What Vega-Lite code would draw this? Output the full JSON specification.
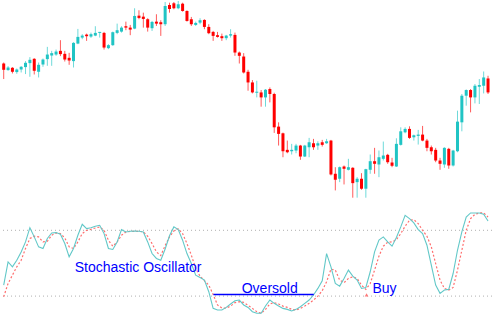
{
  "$schema": "https://vega.github.io/schema/vega-lite/v6.json",
  "width": 493,
  "height": 328,
  "autosize": {"type": "fit", "contains": "padding"},
  "padding": 0,
  "background": "white",
  "config": {"view": {"stroke": null}},
  "datasets": {
    "bars": [
      {"i":0,"o":237.3,"h":238.3,"l":221.7,"c":231,"k":30,"d":19.4},
      {"i":1,"o":230.7,"h":234.7,"l":230,"c":233.3,"k":51.2,"d":31.5},
      {"i":2,"o":233,"h":233.7,"l":227.3,"c":229,"k":46.7,"d":39.1},
      {"i":3,"o":228.7,"h":232.3,"l":227,"c":231.3,"k":52.7,"d":46.7},
      {"i":4,"o":231.3,"h":234.7,"l":228.3,"c":234,"k":60.3,"d":52.7},
      {"i":5,"o":233.7,"h":239.7,"l":226.7,"c":238,"k":69.4,"d":63.4},
      {"i":6,"o":237.7,"h":243.7,"l":224,"c":241,"k":82.4,"d":72.5},
      {"i":7,"o":242,"h":242.7,"l":226.3,"c":230,"k":74,"d":74.6},
      {"i":8,"o":229,"h":238.3,"l":223.3,"c":236,"k":64.9,"d":74},
      {"i":9,"o":236.3,"h":242.3,"l":234,"c":241.3,"k":63.4,"d":69.4},
      {"i":10,"o":241.7,"h":254,"l":235,"c":246.3,"k":72.5,"d":70},
      {"i":11,"o":245.3,"h":250,"l":235,"c":247.7,"k":77.6,"d":75.5},
      {"i":12,"o":246.3,"h":251.3,"l":245,"c":249.3,"k":77.9,"d":77.6},
      {"i":13,"o":250,"h":260.7,"l":244.7,"c":246.7,"k":76.4,"d":77},
      {"i":14,"o":247,"h":250,"l":239.3,"c":241.3,"k":67.9,"d":73.1},
      {"i":15,"o":243,"h":248,"l":236,"c":240.3,"k":55.8,"d":64.9},
      {"i":16,"o":239.7,"h":258.7,"l":233.3,"c":258,"k":63.4,"d":63.4},
      {"i":17,"o":257.3,"h":272,"l":256.7,"c":264,"k":75.5,"d":69.4},
      {"i":18,"o":263.3,"h":266.7,"l":261.7,"c":265.3,"k":85.5,"d":77},
      {"i":19,"o":266.3,"h":267.3,"l":260,"c":264.7,"k":81.5,"d":80},
      {"i":20,"o":264.3,"h":268.3,"l":263,"c":266.7,"k":82.4,"d":80.9},
      {"i":21,"o":265.3,"h":274.7,"l":264.7,"c":268,"k":83.7,"d":82.1},
      {"i":22,"o":268,"h":269,"l":263.3,"c":269,"k":84.6,"d":83},
      {"i":23,"o":268,"h":269,"l":251.3,"c":253.3,"k":77,"d":80},
      {"i":24,"o":252.7,"h":256.7,"l":251.7,"c":255.7,"k":63.4,"d":70.9},
      {"i":25,"o":255.7,"h":269.3,"l":255,"c":268.7,"k":62.5,"d":65.5},
      {"i":26,"o":268,"h":277.3,"l":266.7,"c":270.7,"k":69.4,"d":69.4},
      {"i":27,"o":269.3,"h":274.7,"l":268.3,"c":273.3,"k":80.6,"d":75.5},
      {"i":28,"o":274.7,"h":279.3,"l":270.7,"c":273.3,"k":78.5,"d":78.5},
      {"i":29,"o":273.3,"h":276,"l":265.7,"c":271.3,"k":79.1,"d":79.1},
      {"i":30,"o":272.3,"h":292.7,"l":271.7,"c":285,"k":79.4,"d":79.1},
      {"i":31,"o":285.3,"h":290.7,"l":281.7,"c":283,"k":79.1,"d":79.1},
      {"i":32,"o":284.3,"h":288.3,"l":273.3,"c":282,"k":78.5,"d":78.5},
      {"i":33,"o":281.7,"h":282.7,"l":269.3,"c":273.3,"k":69.4,"d":74.6},
      {"i":34,"o":272.7,"h":280,"l":270,"c":279,"k":58.8,"d":67.9},
      {"i":35,"o":279.3,"h":286.7,"l":275,"c":277.3,"k":54.3,"d":60.3},
      {"i":36,"o":278.7,"h":280.7,"l":265,"c":276.7,"k":52.7,"d":57},
      {"i":37,"o":276.7,"h":299,"l":275,"c":295,"k":63,"d":66},
      {"i":38,"o":296,"h":298.3,"l":288.3,"c":292,"k":75,"d":74},
      {"i":39,"o":297.7,"h":299,"l":291.7,"c":292.7,"k":83.1,"d":79.5},
      {"i":40,"o":292.7,"h":300,"l":291.7,"c":296.7,"k":80.6,"d":81.5},
      {"i":41,"o":297.3,"h":298.3,"l":289.3,"c":290,"k":71,"d":77},
      {"i":42,"o":290,"h":290.7,"l":279.3,"c":280,"k":58.8,"d":67.9},
      {"i":43,"o":281.7,"h":284,"l":275,"c":276.7,"k":49.7,"d":57.3},
      {"i":44,"o":276,"h":279.3,"l":275,"c":278,"k":39.1,"d":45.2},
      {"i":45,"o":278.3,"h":282.7,"l":276.7,"c":280.7,"k":37,"d":38.2},
      {"i":46,"o":281,"h":281.7,"l":271.7,"c":274,"k":34.6,"d":34},
      {"i":47,"o":274,"h":276.7,"l":266.7,"c":267.7,"k":24,"d":30},
      {"i":48,"o":269,"h":270,"l":260,"c":265,"k":8.8,"d":21.5},
      {"i":49,"o":265.7,"h":269,"l":263.3,"c":264,"k":7.3,"d":11.9},
      {"i":50,"o":264.7,"h":267.3,"l":260,"c":262.7,"k":7.3,"d":9.1},
      {"i":51,"o":262.7,"h":266,"l":260.7,"c":265.3,"k":9.7,"d":9.1},
      {"i":52,"o":265.3,"h":271.7,"l":263.3,"c":266.7,"k":12.8,"d":10.9},
      {"i":53,"o":266,"h":268.3,"l":245,"c":248.3,"k":15.8,"d":14},
      {"i":54,"o":248.3,"h":249.3,"l":237.3,"c":245,"k":16.4,"d":14.9},
      {"i":55,"o":244.3,"h":247.7,"l":227.3,"c":228.3,"k":11.9,"d":14.3},
      {"i":56,"o":229,"h":231,"l":210,"c":218.3,"k":9.7,"d":11.6},
      {"i":57,"o":218.3,"h":220.7,"l":207.3,"c":208.3,"k":5.8,"d":8.8},
      {"i":58,"o":208,"h":220,"l":203.3,"c":209,"k":4.3,"d":5.8},
      {"i":59,"o":208.3,"h":210.7,"l":194,"c":203.3,"k":4.3,"d":4.3},
      {"i":60,"o":203.3,"h":211.7,"l":194,"c":211,"k":11,"d":7.9},
      {"i":61,"o":211.7,"h":213.3,"l":198.3,"c":206.7,"k":16.4,"d":12.8},
      {"i":62,"o":206.7,"h":208,"l":167.7,"c":173.3,"k":13.4,"d":14},
      {"i":63,"o":174,"h":178.3,"l":155,"c":166.7,"k":11,"d":12.8},
      {"i":64,"o":167.3,"h":168,"l":143.3,"c":149.3,"k":8.8,"d":10.9},
      {"i":65,"o":150.7,"h":160,"l":147.3,"c":148.3,"k":7.9,"d":9.7},
      {"i":66,"o":149.3,"h":156.7,"l":146,"c":150.7,"k":6.4,"d":7.9},
      {"i":67,"o":150,"h":156.7,"l":147.3,"c":155,"k":7.9,"d":7.3},
      {"i":68,"o":155,"h":155.7,"l":140.7,"c":144,"k":10.3,"d":8.8},
      {"i":69,"o":144,"h":155.7,"l":143.5,"c":155,"k":13.4,"d":10.9},
      {"i":70,"o":153.3,"h":162.7,"l":143.3,"c":158.3,"k":16.4,"d":13.4},
      {"i":71,"o":157.3,"h":161.7,"l":150.7,"c":153.3,"k":21,"d":16.4},
      {"i":72,"o":155,"h":159.3,"l":150.7,"c":157.3,"k":27,"d":20},
      {"i":73,"o":158.3,"h":160.7,"l":154,"c":155.7,"k":34,"d":24.9},
      {"i":74,"o":157.3,"h":161.7,"l":156.7,"c":159.3,"k":58.8,"d":33.1},
      {"i":75,"o":160,"h":160.7,"l":125,"c":126,"k":46.7,"d":44.6},
      {"i":76,"o":126.7,"h":133.3,"l":110,"c":120.7,"k":31.5,"d":43.7},
      {"i":77,"o":121.7,"h":134,"l":118.3,"c":133.3,"k":29.1,"d":34.6},
      {"i":78,"o":134,"h":135,"l":116,"c":131.7,"k":36.1,"d":32.2},
      {"i":79,"o":130.7,"h":141.7,"l":130,"c":133.3,"k":43.7,"d":36.1},
      {"i":80,"o":132.7,"h":133.3,"l":102.7,"c":117.3,"k":38.2,"d":37.6},
      {"i":81,"o":118.3,"h":123.3,"l":102.7,"c":121.7,"k":34.6,"d":36.1},
      {"i":82,"o":121.7,"h":127.3,"l":110.7,"c":111.7,"k":27,"d":30},
      {"i":83,"o":111.7,"h":131.7,"l":102.7,"c":131.3,"k":27.9,"d":26.1},
      {"i":84,"o":130.7,"h":146,"l":126.7,"c":139.3,"k":42.2,"d":31.5},
      {"i":85,"o":139.3,"h":152.7,"l":126.7,"c":136.7,"k":60.3,"d":43.7},
      {"i":86,"o":136,"h":150,"l":123.3,"c":143.3,"k":71,"d":56.4},
      {"i":87,"o":141.7,"h":159,"l":140,"c":145,"k":74,"d":65.5},
      {"i":88,"o":145.7,"h":146.7,"l":136.7,"c":138.3,"k":69.4,"d":69.1},
      {"i":89,"o":138,"h":142.7,"l":133.3,"c":134.7,"k":65.5,"d":69.4},
      {"i":90,"o":134,"h":162.3,"l":133.5,"c":156.7,"k":73.4,"d":71.5},
      {"i":91,"o":155.7,"h":173.3,"l":155,"c":169.3,"k":83.1,"d":77},
      {"i":92,"o":168.3,"h":173.3,"l":167.3,"c":171.7,"k":93.7,"d":83.7},
      {"i":93,"o":171.7,"h":174.3,"l":161.7,"c":162.7,"k":90.6,"d":89.1},
      {"i":94,"o":163.3,"h":166,"l":160,"c":165.3,"k":86.7,"d":89.7},
      {"i":95,"o":164.7,"h":170.7,"l":156,"c":166,"k":80.6,"d":86.1},
      {"i":96,"o":166,"h":174.7,"l":159.3,"c":160,"k":77,"d":80},
      {"i":97,"o":160,"h":161.7,"l":149.3,"c":152.7,"k":66.4,"d":74.6},
      {"i":98,"o":153.3,"h":155,"l":146,"c":149.3,"k":48.2,"d":64.9},
      {"i":99,"o":150.7,"h":152.7,"l":138.3,"c":140,"k":30,"d":49.7},
      {"i":100,"o":140,"h":142.7,"l":130.7,"c":136.7,"k":22.5,"d":34.6},
      {"i":101,"o":136,"h":153.3,"l":132.7,"c":152.7,"k":25.5,"d":27},
      {"i":102,"o":151.7,"h":152.7,"l":131.7,"c":135,"k":26.1,"d":25.5},
      {"i":103,"o":135,"h":150.7,"l":134,"c":150,"k":40.6,"d":27.9},
      {"i":104,"o":149.3,"h":190,"l":148.3,"c":179,"k":61.8,"d":43.7},
      {"i":105,"o":178.3,"h":206.7,"l":169.3,"c":205,"k":78.5,"d":61.8},
      {"i":106,"o":205,"h":211.3,"l":195,"c":210.7,"k":92.1,"d":80},
      {"i":107,"o":210.7,"h":211.7,"l":188.3,"c":203.3,"k":95.8,"d":90.6},
      {"i":108,"o":203.3,"h":216.7,"l":197.3,"c":215,"k":95.8,"d":94.6},
      {"i":109,"o":214,"h":221.7,"l":196.7,"c":215.7,"k":95.8,"d":95.8},
      {"i":110,"o":215,"h":229.3,"l":207.3,"c":223.3,"k":94.6,"d":95.8},
      {"i":111,"o":222.3,"h":225,"l":206.7,"c":208.3,"k":88.5,"d":92.1}
    ],
    "levels": [{"v": 80}, {"v": 20}],
    "notes": [
      {"x": 16.27, "v": 42.1, "t": "Stochastic Oscillator"},
      {"x": 54.55, "v": 23, "t": "Oversold"},
      {"x": 84.52, "v": 23, "t": "Buy"}
    ],
    "marker": [{"x1": 48.07, "x2": 71.06, "v": 21.5}],
    "arrow": [{"x": 83.16, "v": 21.2}]
  },
  "layer": [
    {
      "data": {"name": "bars"},
      "layer": [
        {
          "mark": {"type": "rule", "strokeWidth": 1, "opacity": 0.65},
          "encoding": {
            "x": {"field": "i", "type": "quantitative", "scale": {"domain": [-0.62, 111.91], "nice": false, "zero": false}, "axis": null},
            "y": {"field": "l", "type": "quantitative", "scale": {"domain": [-28, 300], "nice": false, "zero": false}, "axis": null},
            "y2": {"field": "h"},
            "color": {"condition": {"test": "datum.c >= datum.o", "value": "#20c4c4"}, "value": "#ff0000"}
          }
        },
        {
          "mark": {"type": "rule", "strokeWidth": 3},
          "encoding": {
            "x": {"field": "i", "type": "quantitative", "scale": {"domain": [-0.62, 111.91], "nice": false, "zero": false}, "axis": null},
            "y": {"field": "o", "type": "quantitative", "scale": {"domain": [-28, 300], "nice": false, "zero": false}, "axis": null},
            "y2": {"field": "c"},
            "color": {"condition": {"test": "datum.c >= datum.o", "value": "#20c4c4"}, "value": "#ff0000"}
          }
        }
      ]
    },
    {
      "layer": [
        {
          "data": {"name": "levels"},
          "mark": {"type": "rule", "color": "#b0b0b0", "strokeWidth": 1, "strokeDash": [1, 3]},
          "encoding": {
            "y": {"field": "v", "type": "quantitative", "scale": {"domain": [-9.09, 289.09], "nice": false, "zero": false}, "axis": null}
          }
        },
        {
          "data": {"name": "bars"},
          "mark": {"type": "line", "color": "#ff6e6e", "strokeWidth": 1.2, "strokeDash": [2, 2]},
          "encoding": {
            "x": {"field": "i", "type": "quantitative", "scale": {"domain": [-0.62, 111.91], "nice": false, "zero": false}, "axis": null},
            "y": {"field": "d", "type": "quantitative", "scale": {"domain": [-9.09, 289.09], "nice": false, "zero": false}, "axis": null}
          }
        },
        {
          "data": {"name": "bars"},
          "mark": {"type": "line", "color": "#62c8c8", "strokeWidth": 1.1},
          "encoding": {
            "x": {"field": "i", "type": "quantitative", "scale": {"domain": [-0.62, 111.91], "nice": false, "zero": false}, "axis": null},
            "y": {"field": "k", "type": "quantitative", "scale": {"domain": [-9.09, 289.09], "nice": false, "zero": false}, "axis": null}
          }
        },
        {
          "data": {"name": "marker"},
          "mark": {"type": "rule", "color": "#0000ff", "strokeWidth": 1.6},
          "encoding": {
            "x": {"field": "x1", "type": "quantitative", "scale": {"domain": [-0.62, 111.91], "nice": false, "zero": false}, "axis": null},
            "x2": {"field": "x2"},
            "y": {"field": "v", "type": "quantitative", "scale": {"domain": [-9.09, 289.09], "nice": false, "zero": false}, "axis": null}
          }
        },
        {
          "data": {"name": "arrow"},
          "mark": {"type": "point", "shape": "triangle-up", "filled": true, "size": 14, "color": "#ff7a7a", "opacity": 1},
          "encoding": {
            "x": {"field": "x", "type": "quantitative", "scale": {"domain": [-0.62, 111.91], "nice": false, "zero": false}, "axis": null},
            "y": {"field": "v", "type": "quantitative", "scale": {"domain": [-9.09, 289.09], "nice": false, "zero": false}, "axis": null}
          }
        },
        {
          "data": {"name": "notes"},
          "mark": {"type": "text", "align": "left", "baseline": "alphabetic", "font": "Liberation Sans", "fontSize": 14, "color": "#0000ff"},
          "encoding": {
            "x": {"field": "x", "type": "quantitative", "scale": {"domain": [-0.62, 111.91], "nice": false, "zero": false}, "axis": null},
            "y": {"field": "v", "type": "quantitative", "scale": {"domain": [-9.09, 289.09], "nice": false, "zero": false}, "axis": null},
            "text": {"field": "t"}
          }
        }
      ]
    }
  ],
  "resolve": {"scale": {"y": "independent"}}
}
